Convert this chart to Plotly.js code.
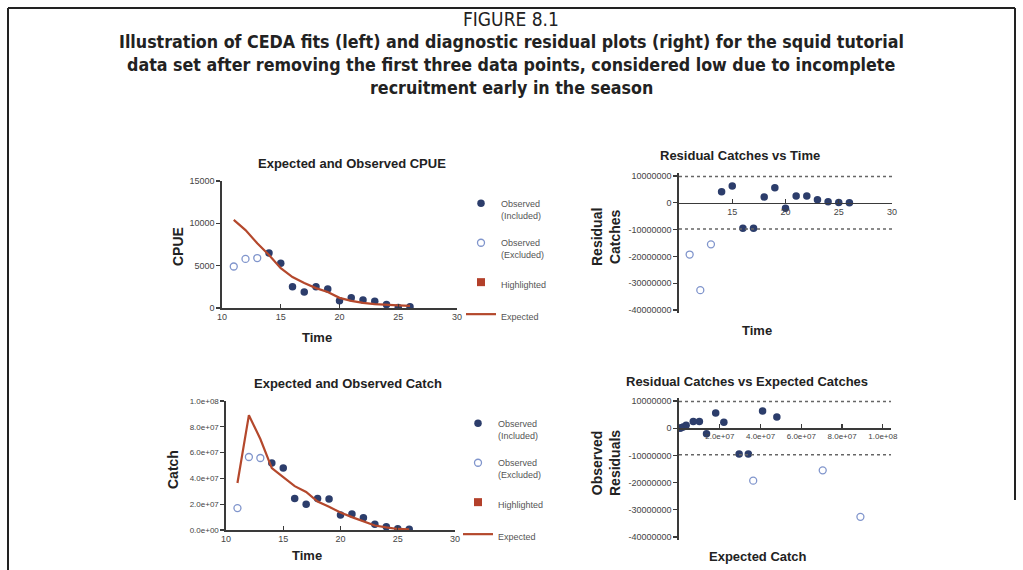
<!DOCTYPE html>
<html>
<head>
<meta charset="utf-8">
<script src="https://cdn.plot.ly/plotly-3.0.1.min.js"></script>
<style>html,body{margin:0;padding:0;background:#fff;}#chart{width:1023px;height:570px;}</style>
</head>
<body>
<div id="chart"></div>
<script>
// ---------------- DATA ----------------
const time = [11, 12, 13, 14, 15, 16, 17, 18, 19, 20, 21, 22, 23, 24, 25, 26];
const included = [false, false, false, true, true, true, true, true, true, true, true, true, true, true, true, true];
const cpueObserved = [4900, 5800, 5900, 6500, 5300, 2500, 1900, 2500, 2250, 850, 1200, 950, 800, 400, 50, 150];
const cpueExpected = [10400, 9200, 7650, 6250, 4700, 3650, 2950, 2350, 1900, 1200, 850, 600, 450, 350, 300, 250];
const catchObserved = [17.0e6, 56.6e6, 55.8e6, 52.0e6, 48.0e6, 24.5e6, 20.0e6, 24.5e6, 24.0e6, 11.6e6, 12.4e6, 9.5e6, 4.5e6, 2.5e6, 1.0e6, 0.6e6];
const catchExpected = [36.4e6, 89.0e6, 70.5e6, 48.0e6, 41.0e6, 34.0e6, 29.5e6, 22.0e6, 18.0e6, 13.5e6, 10.0e6, 7.0e6, 3.5e6, 2.0e6, 0.8e6, 0.5e6];
const residualCatch = [-19.3e6, -32.6e6, -15.5e6, 4.1e6, 6.3e6, -9.5e6, -9.5e6, 2.2e6, 5.6e6, -2.0e6, 2.5e6, 2.5e6, 1.1e6, 0.4e6, 0.1e6, 0.05e6];
const residualBand = [9.8e6, -9.8e6];

const timeTicks = [10, 15, 20, 25, 30];
const cpueTicks = [0, 5000, 10000, 15000];
const cpueTickText = ["0", "5000", "10000", "15000"];
const catchTicks = [0, 2e7, 4e7, 6e7, 8e7, 1e8];
const catchTickText = ["0.0e+00", "2.0e+07", "4.0e+07", "6.0e+07", "8.0e+07", "1.0e+08"];
const residTicks = [1e7, 0, -1e7, -2e7, -3e7, -4e7];
const residTickText = ["10000000", "0", "-10000000", "-20000000", "-30000000", "-40000000"];
const expCatchTicks = [2e7, 4e7, 6e7, 8e7, 1e8];
const expCatchTickText = ["2.0e+07", "4.0e+07", "6.0e+07", "8.0e+07", "1.0e+08"];

const legendNames = ["Observed<br>(Included)", "Observed<br>(Excluded)", "Highlighted", "Expected"];

// ---------------- STYLE ----------------
const W = 1023, H = 570;
const px = v => v / W;
const py = v => 1 - v / H;
const FONT = 'Liberation Sans, Arial, Helvetica, sans-serif';
const CAP_FONT = 'DejaVu Sans Condensed, Liberation Sans Narrow, Arial Narrow, sans-serif';
const INC = '#2c3d6b', EXC = '#8095cc', LINE = '#b4482c', HIL = '#b3402a', AX = '#3a3a3a';

const pick = (arr, flag) => arr.filter((_, i) => included[i] === flag);

function obsTraces(xs, ys, xa, ya, lg, show) {
  return [
    {x: pick(xs, true), y: pick(ys, true), xaxis: xa, yaxis: ya, type: 'scatter', mode: 'markers',
     name: legendNames[0], legend: lg, legendgroup: lg + 'a', showlegend: show,
     marker: {symbol: 'circle', size: 7.5, color: INC}},
    {x: pick(xs, false), y: pick(ys, false), xaxis: xa, yaxis: ya, type: 'scatter', mode: 'markers',
     name: legendNames[1], legend: lg, legendgroup: lg + 'b', showlegend: show,
     marker: {symbol: 'circle-open', size: 7, color: EXC, line: {width: 1.3, color: EXC}}}
  ];
}
function fitTraces(xs, ys, xa, ya, lg) {
  return [
    {x: [null], y: [null], xaxis: xa, yaxis: ya, type: 'scatter', mode: 'markers',
     name: legendNames[2], legend: lg, legendgroup: lg + 'c',
     marker: {symbol: 'square', size: 8, color: HIL}},
    {x: xs, y: ys, xaxis: xa, yaxis: ya, type: 'scatter', mode: 'lines',
     name: legendNames[3], legend: lg, legendgroup: lg + 'd',
     line: {color: LINE, width: 2.2}}
  ];
}

const data = [].concat(
  obsTraces(time, cpueObserved, 'x', 'y', 'legend', true),
  fitTraces(time, cpueExpected, 'x', 'y', 'legend'),
  obsTraces(time, residualCatch, 'x2', 'y2', 'legend', false),
  obsTraces(time, catchObserved, 'x3', 'y3', 'legend2', true),
  fitTraces(time, catchExpected, 'x3', 'y3', 'legend2'),
  obsTraces(catchExpected, residualCatch, 'x4', 'y4', 'legend2', false)
);

// domains in pixels
const D = {
  tl: {x: [222, 457], y: [308, 181]},
  tr: {x: [679, 892], y: [312.7, 173.3]},
  bl: {x: [226, 455], y: [530, 401]},
  br: {x: [679, 891], y: [539.7, 398.3]}
};
const dx = d => [px(d.x[0]), px(d.x[1])];
const dy = d => [py(d.y[0]), py(d.y[1])];
const residRange = [-4.1e7, 1.1e7];
const zeroPos = d => { const r = dy(d); return r[0] + (0 - residRange[0]) / (residRange[1] - residRange[0]) * (r[1] - r[0]); };

const baseAxis = {showgrid: false, zeroline: false, showline: true, linecolor: AX, linewidth: 1.6,
  ticks: 'outside', ticklen: 4, tickwidth: 1.2, tickcolor: AX, fixedrange: true,
  tickfont: {family: FONT, size: 9, color: '#444'}};

const legendBase = {xanchor: 'left', yanchor: 'top', bgcolor: 'rgba(0,0,0,0)',
  font: {family: FONT, size: 9, color: '#555'}, itemwidth: 30, tracegroupgap: 13, valign: 'top', itemclick: false};

const layout = {
  width: W, height: H, margin: {l: 0, r: 0, t: 0, b: 0},
  paper_bgcolor: '#fff', plot_bgcolor: 'rgba(0,0,0,0)', showlegend: true,
  font: {family: FONT, color: '#222'},
  xaxis: Object.assign({}, baseAxis, {domain: dx(D.tl), anchor: 'y', range: [10, 30], tickvals: timeTicks, ticks: 'inside'}),
  yaxis: Object.assign({}, baseAxis, {domain: dy(D.tl), anchor: 'x', range: [0, 15000], tickvals: cpueTicks, ticktext: cpueTickText}),
  xaxis2: Object.assign({}, baseAxis, {domain: dx(D.tr), anchor: 'free', position: zeroPos(D.tr), range: [10, 30], tickvals: timeTicks.slice(1), ticks: 'inside'}),
  yaxis2: Object.assign({}, baseAxis, {domain: dy(D.tr), anchor: 'x2', range: residRange, tickvals: residTicks, ticktext: residTickText}),
  xaxis3: Object.assign({}, baseAxis, {domain: dx(D.bl), anchor: 'y3', range: [10, 30], tickvals: timeTicks, ticks: 'inside'}),
  yaxis3: Object.assign({}, baseAxis, {domain: dy(D.bl), anchor: 'x3', range: [0, 1e8], tickvals: catchTicks, ticktext: catchTickText, tickfont: {family: FONT, size: 8, color: '#444'}}),
  xaxis4: Object.assign({}, baseAxis, {domain: dx(D.br), anchor: 'free', position: zeroPos(D.br), range: [0, 1.04e8], tickvals: expCatchTicks, ticktext: expCatchTickText, ticks: 'inside', tickfont: {family: FONT, size: 8, color: '#444'}}),
  yaxis4: Object.assign({}, baseAxis, {domain: dy(D.br), anchor: 'x4', range: residRange, tickvals: residTicks, ticktext: residTickText}),
  legend: Object.assign({}, legendBase, {x: px(461), y: py(191)}),
  legend2: Object.assign({}, legendBase, {x: px(458), y: py(411)}),
  shapes: [],
  annotations: []
};

// dotted residual bands
[['x2', 'y2'], ['x4', 'y4']].forEach(([xa, ya]) => {
  residualBand.forEach(v => layout.shapes.push({type: 'line', xref: xa + ' domain', x0: 0, x1: 1, yref: ya, y0: v, y1: v,
    line: {color: '#666', width: 1.5, dash: 'dot'}}));
});
// frame
layout.shapes.push({type: 'line', xref: 'paper', yref: 'paper', x0: px(8), x1: px(1015), y0: py(8), y1: py(8), line: {color: '#222', width: 2}});
layout.shapes.push({type: 'line', xref: 'paper', yref: 'paper', x0: px(8), x1: px(8), y0: py(8), y1: 0, line: {color: '#222', width: 2}});
layout.shapes.push({type: 'line', xref: 'paper', yref: 'paper', x0: px(1015), x1: px(1015), y0: py(8), y1: py(500), line: {color: '#222', width: 2}});

function ann(text, x, y, size, bold, extra) {
  layout.annotations.push(Object.assign({xref: 'paper', yref: 'paper', x: px(x), y: py(y), xanchor: 'center', yanchor: 'middle',
    showarrow: false, text: bold ? '<b>' + text + '</b>' : text, font: {family: FONT, size: size, color: '#222'}}, extra || {}));
}
// caption
const capLines = [
  'Illustration of CEDA fits (left) and diagnostic residual plots (right) for the squid tutorial',
  'data set after removing the first three data points, considered low due to incomplete',
  'recruitment early in the season'
];
ann('FIGURE 8.1', 511, 19, 19, false, {font: {family: CAP_FONT, size: 19, color: '#222'}});
capLines.forEach((t, i) => ann(t, 511, 42 + i * 23, 17.7, true, {font: {family: CAP_FONT, size: 17.7, color: '#222'}}));
// subplot titles
ann('Expected and Observed CPUE', 352, 163, 13, true);
ann('Residual Catches vs Time', 740, 156, 13, true);
ann('Expected and Observed Catch', 348, 383, 13, true);
ann('Residual Catches vs Expected Catches', 747, 381, 13, true);
// axis titles
ann('CPUE', 178, 247, 14, true, {textangle: -90});
ann('Time', 317, 337, 13, true);
ann('Catch', 173, 470, 14, true, {textangle: -90});
ann('Time', 307, 555, 13, true);
ann('Residual<br>Catches', 606, 237, 14, true, {textangle: -90});
ann('Time', 757, 330, 13, true);
ann('Observed<br>Residuals', 606, 463, 14, true, {textangle: -90});
ann('Expected Catch', 758, 556, 13, true);

Plotly.newPlot('chart', data, layout, {staticPlot: true, displayModeBar: false});
</script>
</body>
</html>
